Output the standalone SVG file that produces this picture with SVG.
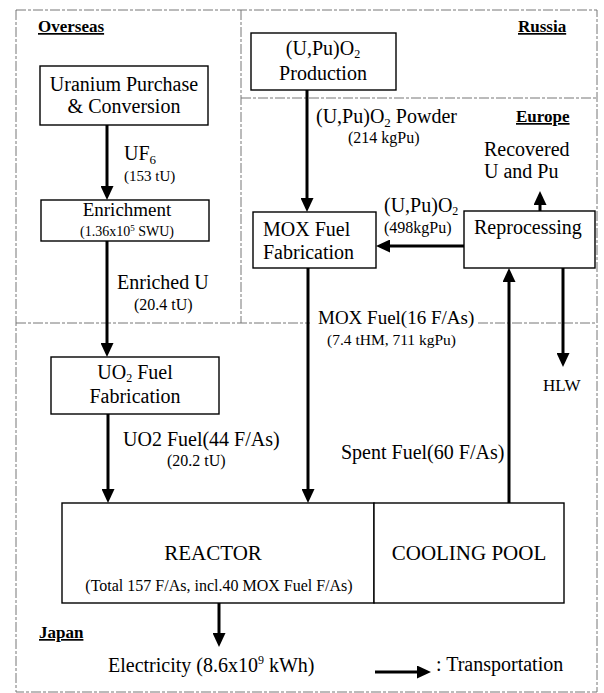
<svg xmlns="http://www.w3.org/2000/svg" width="604" height="693" viewBox="0 0 604 693">
<defs>
<style>
.bg{fill:#fff}
.region{fill:none;stroke:#777;stroke-width:1;stroke-dasharray:10 2 3 2}
.box{fill:#fff;stroke:#000;stroke-width:1.4}
.edge{fill:none;stroke:#000;stroke-width:3}
text{font-family:"Liberation Serif","Times New Roman",serif;fill:#000}
.t20{font-size:20px}
.t21{font-size:21px}
.t16{font-size:16px}
.t15{font-size:15px}
.rl{font-size:17px;font-weight:bold;text-decoration:underline}
.c{text-anchor:middle}
</style>
<marker id="ah" markerWidth="14" markerHeight="13" refX="1" refY="6.5" orient="auto" markerUnits="userSpaceOnUse">
<path d="M0,0 L14,6.5 L0,13 z" fill="#000"/>
</marker>
</defs>
<rect class="bg" x="0" y="0" width="604" height="693"/>

<g id="regions">
<rect class="region" x="16" y="10" width="581" height="682"/>
<path class="region" d="M241,10 V323"/>
<path class="region" d="M241,98 H597"/>
<path class="region" d="M16,323 H310 M478,323 H597"/>
<text class="rl" x="38" y="32">Overseas</text>
<text class="rl" x="518" y="32">Russia</text>
<text class="rl" x="516" y="122">Europe</text>
<text class="rl" x="39" y="638">Japan</text>
</g>

<g id="connectors">
<path class="edge" d="M107,125 V187" marker-end="url(#ah)"/>
<path class="edge" d="M107,240 V344" marker-end="url(#ah)"/>
<path class="edge" d="M108,414 V490" marker-end="url(#ah)"/>
<path class="edge" d="M307,90 V199" marker-end="url(#ah)"/>
<path class="edge" d="M464,246 H389" marker-end="url(#ah)"/>
<path class="edge" d="M540,211 V204" marker-end="url(#ah)"/>
<path class="edge" d="M509,503 V281" marker-end="url(#ah)"/>
<path class="edge" d="M563,268 V354" marker-end="url(#ah)"/>
<path class="edge" d="M308,268 V490" marker-end="url(#ah)"/>
<path class="edge" d="M219,603 V634" marker-end="url(#ah)"/>
<path class="edge" d="M375,672 H418" marker-end="url(#ah)"/>

<text class="t20" x="124" y="160">UF<tspan font-size="13" dy="4">6</tspan></text>
<text class="t15" x="124" y="181">(153 tU)</text>
<text class="t20" x="117" y="289">Enriched U</text>
<text class="t16" x="134" y="310">(20.4 tU)</text>
<text class="t20" x="123" y="446">UO2 Fuel(44 F/As)</text>
<text class="t16" x="167" y="466">(20.2 tU)</text>
<text class="t20" x="316" y="123">(U,Pu)O<tspan font-size="13" dy="4">2</tspan><tspan dy="-4"> Powder</tspan></text>
<text class="t16" x="348" y="143">(214 kgPu)</text>
<text class="t20" x="384" y="212">(U,Pu)O<tspan font-size="12" dy="3">2</tspan></text>
<text class="t16" x="384" y="233">(498kgPu)</text>
<text class="t20" x="484" y="156">Recovered</text>
<text class="t20" x="484" y="178">U and Pu</text>
<text class="t20" x="341" y="459">Spent Fuel(60 F/As)</text>
<text x="543" y="391" font-size="17">HLW</text>
<text x="318" y="324" font-size="19">MOX Fuel(16 F/As)</text>
<text x="327" y="345" font-size="15.5">(7.4 tHM, 711 kgPu)</text>
<text class="t20" x="108" y="672">Electricity (8.6x10<tspan font-size="12" dy="-8">9</tspan><tspan dy="8"> kWh)</tspan></text>
<text class="t20" x="436" y="671">: Transportation</text>
</g>

<g id="n_uranium">
<rect class="box" x="40" y="66" width="168" height="59"/>
<text class="t20 c" x="124" y="91">Uranium Purchase</text>
<text class="t20 c" x="124" y="113">&amp; Conversion</text>
</g>

<g id="n_enrichment">
<rect class="box" x="41" y="200" width="168" height="41"/>
<text class="c" font-size="19" x="127" y="216">Enrichment</text>
<text class="c" font-size="14" x="127" y="236">(1.36x10<tspan font-size="9" dy="-5">5</tspan><tspan dy="5"> SWU)</tspan></text>
</g>

<g id="n_production">
<rect class="box" x="251" y="33" width="145" height="57"/>
<text class="t20 c" x="323" y="55">(U,Pu)O<tspan font-size="12" dy="3">2</tspan></text>
<text class="t20 c" x="323" y="80">Production</text>
</g>

<g id="n_mox">
<rect class="box" x="253" y="212" width="123" height="56"/>
<text class="t20" x="263" y="236">MOX Fuel</text>
<text class="t20" x="263" y="259">Fabrication</text>
</g>

<g id="n_reprocessing">
<rect class="box" x="464" y="211" width="131" height="57"/>
<text class="t20" x="474" y="234">Reprocessing</text>
</g>

<g id="n_uo2">
<rect class="box" x="51" y="357" width="168" height="57"/>
<text class="t20 c" x="135" y="379">UO<tspan font-size="12" dy="3">2</tspan><tspan dy="-3"> Fuel</tspan></text>
<text class="t20 c" x="135" y="403">Fabrication</text>
</g>

<g id="n_reactor">
<rect class="box" x="62" y="503" width="312" height="100"/>
<text class="t21 c" x="213" y="560">REACTOR</text>
<text class="t16 c" x="219" y="591">(Total 157 F/As, incl.40 MOX Fuel F/As)</text>
</g>

<g id="n_pool">
<rect class="box" x="374" y="503" width="190" height="100"/>
<text class="t21 c" x="469" y="560">COOLING POOL</text>
</g>
</svg>
